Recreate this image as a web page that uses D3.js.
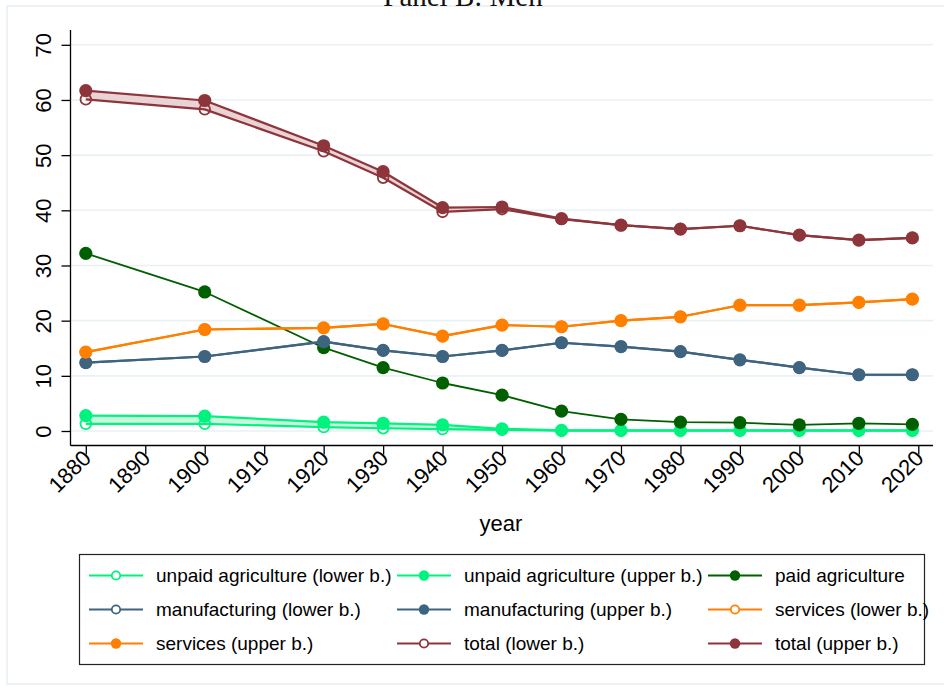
<!DOCTYPE html>
<html><head><meta charset="utf-8">
<script src="https://cdn.jsdelivr.net/npm/d3@7"></script>
<style>body{margin:0;background:#fff}svg{display:block}</style>
</head><body>
<svg id="c" width="944" height="688"></svg>
<script>
const years = [1880,1900,1920,1930,1940,1950,1960,1970,1980,1990,2000,2010,2019];
const unpaidLower = [1.3,1.3,0.7,0.5,0.35,0.2,0.05,0.05,0.05,0.05,0.05,0.05,0.05];
const unpaidUpper = [2.8,2.7,1.6,1.4,1.1,0.4,0.1,0.1,0.1,0.1,0.1,0.1,0.1];
const paidAg = [32.2,25.2,15.1,11.5,8.7,6.5,3.6,2.1,1.6,1.5,1.1,1.4,1.2];
const manuLower = [12.4,13.5,16.2,14.6,13.5,14.6,16.0,15.3,14.4,12.9,11.5,10.2,10.2];
const manuUpper = [12.4,13.5,16.2,14.6,13.5,14.6,16.0,15.3,14.4,12.9,11.5,10.2,10.2];
const servLower = [14.3,18.4,18.7,19.4,17.2,19.2,18.9,20.0,20.7,22.8,22.8,23.3,23.9];
const servUpper = [14.3,18.4,18.7,19.4,17.2,19.2,18.9,20.0,20.7,22.8,22.8,23.3,23.9];
const totalLower = [60.1,58.3,50.7,45.9,39.7,40.2,38.4,37.3,36.6,37.2,35.5,34.6,35.0];
const totalUpper = [61.7,59.9,51.7,47.0,40.5,40.6,38.5,37.3,36.6,37.2,35.5,34.6,35.0];
const xTicks = [1880,1890,1900,1910,1920,1930,1940,1950,1960,1970,1980,1990,2000,2010,2020];
const yTicks = [0,10,20,30,40,50,60,70];
const titleText = "Panel B: Men";
const xTitle = "year";

const cGreen = "#00F27F", cDk = "#006000", cNavy = "#3E6480", cOr = "#FF7F00", cRed = "#8E353B";

const series = [
  {name:"unpaid agriculture (lower b.)", vals:unpaidLower, color:cGreen, hollow:true},
  {name:"unpaid agriculture (upper b.)", vals:unpaidUpper, color:cGreen, hollow:false},
  {name:"paid agriculture", vals:paidAg, color:cDk, hollow:false, width:1.8},
  {name:"manufacturing (lower b.)", vals:manuLower, color:cNavy, hollow:true},
  {name:"manufacturing (upper b.)", vals:manuUpper, color:cNavy, hollow:false},
  {name:"services (lower b.)", vals:servLower, color:cOr, hollow:true},
  {name:"services (upper b.)", vals:servUpper, color:cOr, hollow:false},
  {name:"total (lower b.)", vals:totalLower, color:cRed, hollow:true},
  {name:"total (upper b.)", vals:totalUpper, color:cRed, hollow:false}
];
const bands = [
  {lo:unpaidLower, hi:unpaidUpper, fill:"#C8F7DE"},
  {lo:manuLower, hi:manuUpper, fill:"#D0DAE2"},
  {lo:servLower, hi:servUpper, fill:"#FFD9B3"},
  {lo:totalLower, hi:totalUpper, fill:"#E9D3D5"}
];

const svg = d3.select("#c");
const x = d3.scaleLinear().domain([1880,2020]).range([85.8,918.3]);
const y = d3.scaleLinear().domain([0,70]).range([431,44.8]);

// outer frame
svg.append("rect").attr("x",7).attr("y",6).attr("width",960).attr("height",678)
  .attr("fill","none").attr("stroke","#E6EEF2").attr("stroke-width",1.5);

// title (partly above the frame, as in the reference)
svg.append("text").attr("x",463).attr("y",6).attr("text-anchor","middle")
  .attr("font-family","'Liberation Serif','DejaVu Serif',serif").attr("font-size",29)
  .attr("fill","#111").text(titleText);

const pLeft = 70.5, pRight = 933, pBottom = 445.5, pTop = 30;

// gridlines
svg.append("g").selectAll("line").data(yTicks).join("line")
  .attr("x1",pLeft).attr("x2",pRight).attr("y1",d=>y(d)).attr("y2",d=>y(d))
  .attr("stroke","#EAF1F4").attr("stroke-width",1.6);

// bands
bands.forEach(b=>{
  const area = d3.area().x((d,i)=>x(years[i])).y0((d,i)=>y(b.lo[i])).y1((d,i)=>y(b.hi[i]));
  svg.append("path").datum(years).attr("d",area).attr("fill",b.fill).attr("stroke","none");
});

// lines and markers
series.forEach(s=>{
  const line = d3.line().x((d,i)=>x(years[i])).y(d=>y(d));
  svg.append("path").datum(s.vals).attr("d",line).attr("fill","none")
    .attr("stroke",s.color).attr("stroke-width",s.width||2.2).attr("stroke-linejoin","round");
});
series.forEach(s=>{
  svg.append("g").selectAll("circle").data(s.vals).join("circle")
    .attr("cx",(d,i)=>x(years[i])).attr("cy",d=>y(d))
    .attr("r",s.hollow?5.3:6.6)
    .attr("fill",s.hollow?"none":s.color)
    .attr("stroke",s.color).attr("stroke-width",s.hollow?1.8:0);
});

// axes
const gy = svg.append("g").attr("transform",`translate(${pLeft},0)`);
gy.call(d3.axisLeft(y).tickValues(yTicks).tickSize(9).tickFormat(d3.format("d")));
gy.select(".domain").remove();
gy.append("line").attr("x1",0).attr("x2",0).attr("y1",pTop).attr("y2",pBottom).attr("stroke","#000").attr("stroke-width",1.3);
gy.selectAll(".tick line").attr("stroke","#000").attr("stroke-width",1.3);
gy.selectAll(".tick text").attr("font-family","'Liberation Sans',Arial,sans-serif").attr("font-size",22)
  .attr("fill","#000").attr("text-anchor","middle").attr("x",0).attr("dy",0)
  .attr("transform","translate(-20,0) rotate(-90)");

const gx = svg.append("g").attr("transform",`translate(0,${pBottom})`);
gx.call(d3.axisBottom(x).tickValues(xTicks).tickSize(9).tickFormat(d3.format("d")));
gx.select(".domain").remove();
gx.append("line").attr("x1",pLeft).attr("x2",pRight).attr("y1",0).attr("y2",0).attr("stroke","#000").attr("stroke-width",1.3);
gx.selectAll(".tick line").attr("stroke","#000").attr("stroke-width",1.3);
gx.selectAll(".tick text").attr("font-family","'Liberation Sans',Arial,sans-serif").attr("font-size",22)
  .attr("fill","#000").attr("text-anchor","end").attr("y",0).attr("dy",0)
  .attr("transform","translate(6,14) rotate(-45)");

svg.append("text").attr("x",501).attr("y",531).attr("text-anchor","middle")
  .attr("font-family","'Liberation Sans',Arial,sans-serif").attr("font-size",22).attr("fill","#000").text(xTitle);

// legend
const lg = svg.append("g");
lg.append("rect").attr("x",79.5).attr("y",554.5).attr("width",845).attr("height",110)
  .attr("fill","#fff").attr("stroke","#222").attr("stroke-width",1.2);
const colX = [89,397,708], rowY = [575.5,609.5,643.5];
series.forEach((s,k)=>{
  const cx = colX[k%3], cy = rowY[Math.floor(k/3)];
  lg.append("line").attr("x1",cx).attr("x2",cx+54).attr("y1",cy).attr("y2",cy)
    .attr("stroke",s.color).attr("stroke-width",2);
  lg.append("circle").attr("cx",cx+27).attr("cy",cy).attr("r",s.hollow?4.2:5.2)
    .attr("fill",s.hollow?"#fff":s.color).attr("stroke",s.color).attr("stroke-width",s.hollow?1.8:0);
  lg.append("text").attr("x",cx+67).attr("y",cy+6.5)
    .attr("font-family","'Liberation Sans',Arial,sans-serif").attr("font-size",19).attr("fill","#000").text(s.name);
});
</script>
</body></html>
